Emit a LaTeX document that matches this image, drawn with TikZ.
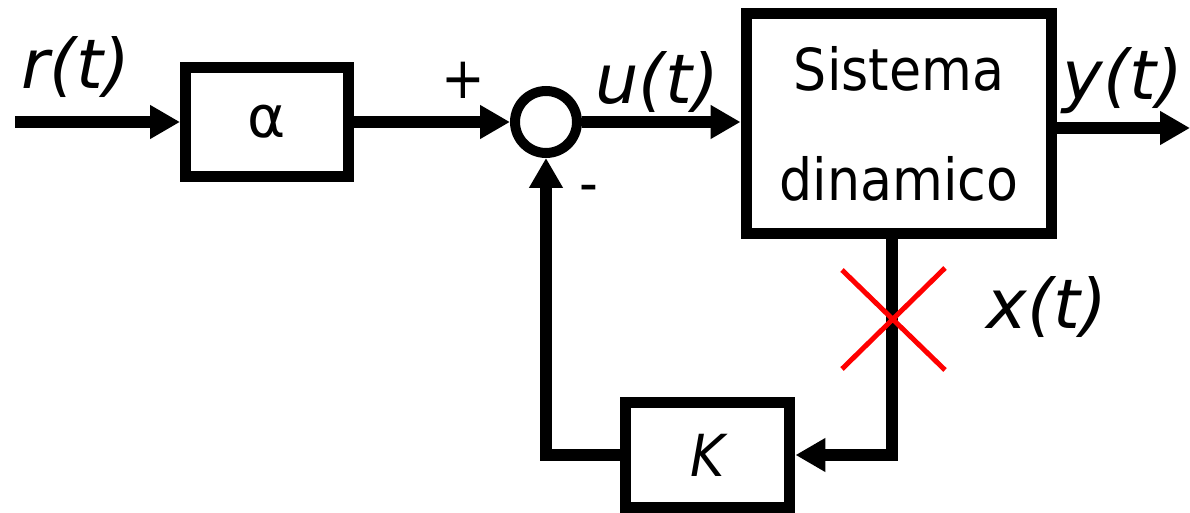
\documentclass[tikz,border=0pt]{standalone}
\usepackage{fontspec}
\setmainfont[FakeStretch=0.9]{DejaVu Sans}
\newfontfamily\lblfont{DejaVu Sans}
\usetikzlibrary{arrows.meta, calc}

\begin{document}
\begin{tikzpicture}[
  x=0.02cm, y=-0.02cm,
  font=\fontsize{33}{62.6}\selectfont,
  blk/.style={draw, line width=0.22cm, align=center, inner sep=0pt},
  sumpt/.style={draw, circle, line width=0.2cm, minimum size=1.24cm, inner sep=0pt},
  arr/.style={-{Triangle[length=0.6cm, width=0.64cm]}, line width=0.24cm},
  lbl/.style={inner sep=0pt, font=\fontsize{39}{46}\lblfont\itshape},
  sgn/.style={inner sep=0pt},
]
\useasboundingbox (0,0) rectangle (1190,513);

% blocchi
\node[blk, minimum width=3.26cm, minimum height=2.2cm] (alpha) at (267,122) {\lblfont α};
\node[sumpt] (sum) at (546,122) {};
\node[blk, minimum width=6.12cm, minimum height=4.42cm] (sys) at (899,123.5) {Sistema\\dinamico};
\node[blk, minimum width=3.3cm, minimum height=2.12cm] (kbox) at (707.5,455) {\itshape K};

\coordinate (in) at (15,122);
\coordinate (out) at (1190,128);
\coordinate (xcut) at (892,319);

% collegamenti
\draw[arr] (in) -- (alpha.west);
\draw[arr] (alpha.east) -- (sum.west);
\draw[arr] (sum.east) -- (sys.west |- sum.east);
\draw[arr] (sys.east |- out) -- (out);
\draw[arr] (sys.south -| xcut) -- (xcut |- kbox.east) -- (kbox.east);
\draw[arr] (kbox.west) -| (sum.south);

% taglio dello stato
\draw[red, line width=0.1cm] ($(xcut)+(-50,-49)$) -- ($(xcut)+(53,51)$)
  ($(xcut)+(-50,50)$) -- ($(xcut)+(53,-51)$);

% etichette
\node[lbl] (rlab) at (76,67) {r(t)};
\node[lbl] (ulab) at (657,82) {u(t)};
\node[lbl] (ylab) at (1123,81) {y(t)};
\node[lbl] (xlab) at (1047,307) {x(t)};
\node[sgn] (plus) at (463,80) {+};
\node[sgn] (minus) at (589,194) {-};

\end{tikzpicture}
\end{document}
